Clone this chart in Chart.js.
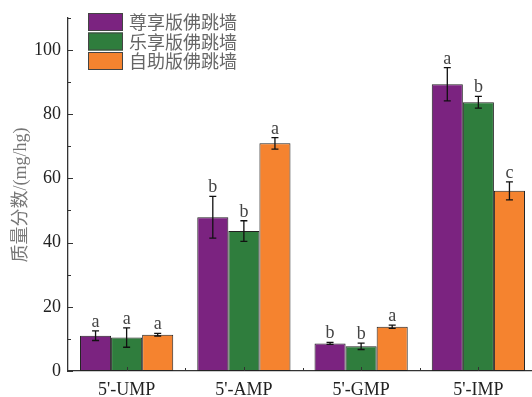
<!DOCTYPE html>
<html>
<head>
<meta charset="utf-8">
<script src="https://cdn.jsdelivr.net/npm/chart.js@4"></script>
<style>
html, body { margin: 0; padding: 0; background: #fff; overflow: hidden; }
</style>
</head>
<body>
<canvas id="chart" width="540" height="397"></canvas>
<script>
const categories = ["5'-UMP", "5'-AMP", "5'-GMP", "5'-IMP"];
const seriesNames = ['尊享版佛跳墙', '乐享版佛跳墙', '自助版佛跳墙'];
const zunxiang = [11.0, 47.9, 8.6, 89.3];
const zunxiangErr = [1.5, 6.5, 0.3, 5.2];
const lexiang = [10.4, 43.6, 7.7, 83.7];
const lexiangErr = [3.0, 3.2, 1.0, 1.8];
const zizhu = [11.3, 70.9, 13.8, 56.1];
const zizhuErr = [0.4, 1.8, 0.5, 2.8];
const zunxiangSig = ['a', 'b', 'b', 'a'];
const lexiangSig = ['a', 'b', 'b', 'b'];
const zizhuSig = ['a', 'a', 'a', 'c'];
const yTicks = [0, 20, 40, 60, 80, 100];
const yMinor = [10, 30, 50, 70, 90, 110];

const colors = ['#7b2380', '#2f7d3d', '#f5832f'];
const errs = [zunxiangErr, lexiangErr, zizhuErr];
const sigs = [zunxiangSig, lexiangSig, zizhuSig];
const serif = '"Liberation Serif", "Noto Sans CJK SC", serif';

// error bars with significance letters, inside ticks, legend and y title
const extras = {
    id: 'extras',
    afterDatasetsDraw(chart) {
        const ctx = chart.ctx;
        const y = chart.scales.y;
        ctx.save();
        chart.data.datasets.forEach((ds, i) => {
            chart.getDatasetMeta(i).data.forEach((bar, j) => {
                const v = ds.data[j], e = errs[i][j];
                const top = y.getPixelForValue(v + e);
                const bot = y.getPixelForValue(v - e);
                ctx.strokeStyle = '#111';
                ctx.lineWidth = 1.3;
                ctx.beginPath();
                ctx.moveTo(bar.x, top); ctx.lineTo(bar.x, bot);
                ctx.moveTo(bar.x - 3.5, top); ctx.lineTo(bar.x + 3.5, top);
                ctx.moveTo(bar.x - 3.5, bot); ctx.lineTo(bar.x + 3.5, bot);
                ctx.stroke();
                ctx.fillStyle = '#444';
                ctx.font = '18px ' + serif;
                ctx.textAlign = 'center';
                ctx.textBaseline = 'alphabetic';
                ctx.fillText(sigs[i][j], bar.x, top - 4);
            });
        });
        ctx.restore();
    },
    afterDraw(chart) {
        const ctx = chart.ctx;
        const x = chart.scales.x, y = chart.scales.y;
        const area = chart.chartArea;
        ctx.save();
        ctx.strokeStyle = '#333';
        ctx.lineWidth = 1;
        ctx.beginPath();
        yTicks.forEach(v => {
            const py = Math.round(y.getPixelForValue(v)) + 0.5;
            ctx.moveTo(area.left, py); ctx.lineTo(area.left + 5, py);
        });
        yMinor.forEach(v => {
            const py = Math.round(y.getPixelForValue(v)) + 0.5;
            ctx.moveTo(area.left, py); ctx.lineTo(area.left + 3, py);
        });
        categories.forEach((c, j) => {
            const px = Math.round(x.getPixelForValue(j)) + 0.5;
            ctx.moveTo(px, area.bottom); ctx.lineTo(px, area.bottom - 4);
            if (j > 0) {
                const bx = Math.round((x.getPixelForValue(j) + x.getPixelForValue(j - 1)) / 2) + 0.5;
                ctx.moveTo(bx, area.bottom); ctx.lineTo(bx, area.bottom - 3);
            }
        });
        ctx.stroke();

        // legend
        seriesNames.forEach((name, i) => {
            const top = 13 + i * 19.5;
            ctx.fillStyle = colors[i];
            ctx.fillRect(88, top, 35, 18);
            ctx.strokeStyle = '#444';
            ctx.strokeRect(88.5, top + 0.5, 34, 17);
            ctx.fillStyle = '#666';
            ctx.font = '18px "Noto Sans CJK SC", sans-serif';
            ctx.textAlign = 'left';
            ctx.textBaseline = 'middle';
            ctx.fillText(name, 129, top + 9.5);
        });

        // y title
        ctx.translate(21, 195);
        ctx.rotate(-Math.PI / 2);
        ctx.fillStyle = '#777';
        ctx.font = '18px ' + serif;
        ctx.textAlign = 'center';
        ctx.textBaseline = 'middle';
        ctx.fillText('质量分数/(mg/hg)', 0, 0);
        ctx.restore();
    }
};

new Chart(document.getElementById('chart'), {
    type: 'bar',
    data: {
        labels: categories,
        datasets: [
            { label: seriesNames[0], data: zunxiang, backgroundColor: colors[0] },
            { label: seriesNames[1], data: lexiang, backgroundColor: colors[1] },
            { label: seriesNames[2], data: zizhu, backgroundColor: colors[2] }
        ].map(d => Object.assign(d, { borderColor: '#222', borderWidth: 1, borderSkipped: false, barPercentage: 1, categoryPercentage: 0.795 }))
    },
    options: {
        responsive: false,
        animation: false,
        devicePixelRatio: 1,
        layout: { padding: { left: 0, right: 3, top: 13, bottom: 0 } },
        plugins: { legend: { display: false }, tooltip: { enabled: false } },
        scales: {
            x: {
                grid: { display: false, drawTicks: false },
                border: { display: true, color: '#333', width: 1.3 },
                ticks: { color: '#222', padding: 8, font: { family: serif, size: 18 } },
                afterFit: s => { s.height = 26; }
            },
            y: {
                min: 0,
                max: 110,
                grid: { display: false, drawTicks: false },
                border: { display: true, color: '#333', width: 1.3 },
                ticks: { color: '#222', padding: 7, font: { family: serif, size: 18 } },
                afterBuildTicks: s => { s.ticks = yTicks.map(v => ({ value: v })); },
                afterFit: s => { s.width = 68; }
            }
        }
    },
    plugins: [extras]
});
</script>
</body>
</html>
